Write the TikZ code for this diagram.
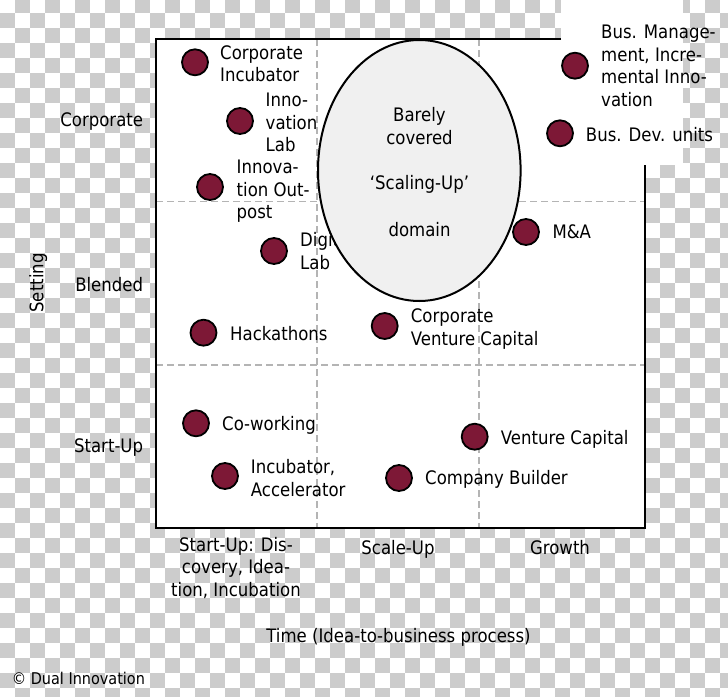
\documentclass[tikz,border=0pt]{standalone}
\usepackage{fontspec}
\setmainfont{DejaVu Sans}[FakeStretch=0.89]
\usetikzlibrary{shapes.geometric}
\definecolor{checkgray}{RGB}{204,204,204}
\definecolor{dotred}{RGB}{125,24,54}
\definecolor{gridgray}{RGB}{180,180,180}
\definecolor{ellfill}{RGB}{240,240,240}
\begin{document}
\begin{tikzpicture}[x=1pt,y=-1pt,
  txt/.style={font=\fontsize{18.6}{22.5}\selectfont, inner sep=0pt},
  lw/.style={txt, anchor=base west},
  le/.style={txt, anchor=base east},
  lc/.style={txt, anchor=base},
  dot/.style={circle, draw=black, line width=1.8pt, fill=dotred, minimum size=26pt, inner sep=0pt},
  gridline/.style={gridgray, line width=1.5pt, dash pattern=on 7pt off 4pt},
  frame/.style={black, line width=2pt, line join=miter},
]
\useasboundingbox (0,0) rectangle (728,696);
% transparency checkerboard
\begin{scope}
\clip (0,0) rectangle (728,696);
\foreach \r in {0,...,46}{
  \pgfmathtruncatemacro\s{mod(\r+1,2)}
  \foreach \c in {0,...,24}{
    \fill[checkgray] ({30*\c+15*\s},{15*\r-1.7}) rectangle ++(15,15);
  }
}
\end{scope}
% white areas
\fill[white] (156,39) rectangle (645,528);
\fill[white] (561,0) rectangle (683,165);
% grid
\draw[gridline] (317,39) -- (317,528);
\draw[gridline] (479,39) -- (479,528);
\draw[gridline] (156,201.5) -- (645,201.5);
\draw[gridline] (156,365) -- (645,365);
% frame
\draw[frame] (561,39) -- (156,39) -- (156,528) -- (645,528) -- (645,165);
% Digital Lab text (under ellipse)
\node[lw] (dl1) at (300,246.8) {Digital};
\node[lw] (dl2) at (300,269.3) {Lab};
% ellipse
\node[ellipse, draw=black, line width=2pt, fill=ellfill, minimum width=202.6pt, minimum height=261pt, inner sep=0pt] (gap) at (419.3,170.5) {};
\node[lc] (g1) at (419.5,121.7) {Barely};
\node[lc] (g2) at (419.5,144) {covered};
\node[lc] (g3) at (419.5,189.3) {‘Scaling-Up’};
\node[lc] (g4) at (419.5,236) {domain};
% dots
\node[dot] (d1) at (195,62.3) {};
\node[dot] (d2) at (240,121) {};
\node[dot] (d3) at (210,187) {};
\node[dot] (d4) at (274,251) {};
\node[dot] (d5) at (203.5,332.7) {};
\node[dot] (d6) at (384.7,326) {};
\node[dot] (d7) at (526,232) {};
\node[dot] (d8) at (575,65.7) {};
\node[dot] (d9) at (560,133.3) {};
\node[dot] (d10) at (196,423.3) {};
\node[dot] (d11) at (225,476) {};
\node[dot] (d12) at (474.7,436.7) {};
\node[dot] (d13) at (399,478) {};
% dot labels
\node[lw] (t1a) at (220,59) {Corporate};
\node[lw] (t1b) at (220,81.5) {Incubator};
\node[lw] (t2a) at (265.5,106.7) {Inno-};
\node[lw] (t2b) at (265.5,129.2) {vation};
\node[lw] (t2c) at (265.5,151.7) {Lab};
\node[lw] (t3a) at (236.5,173.5) {Innova-};
\node[lw] (t3b) at (236.5,196) {tion Out-};
\node[lw] (t3c) at (236.5,218.5) {post};
\node[lw] (t5) at (230,340) {Hackathons};
\node[lw] (t6a) at (410.7,322.7) {Corporate};
\node[lw] (t6b) at (410.7,345.2) {Venture Capital};
\node[lw] (t7) at (552.3,238.5) {M\&A};
\node[lw] (t8a) at (601,38.5) {Bus. Manage-};
\node[lw] (t8b) at (601,61) {ment, Incre-};
\node[lw] (t8c) at (601,83.5) {mental Inno-};
\node[lw] (t8d) at (601,106) {vation};
\node[lw] (t9) at (585.7,141) {Bus. Dev. units};
\node[lw] (t10) at (222,430) {Co-working};
\node[lw] (t11a) at (250.7,473.3) {Incubator,};
\node[lw] (t11b) at (250.7,496) {Accelerator};
\node[lw] (t12) at (500.7,444) {Venture Capital};
\node[lw] (t13) at (425,484.7) {Company Builder};
% axis labels
\node[le] (yc) at (143.3,126.7) {Corporate};
\node[le] (yb) at (143.3,291.7) {Blended};
\node[le] (ys) at (143.3,452.7) {Start-Up};
\node[txt, rotate=90, anchor=base] (yt) at (43.3,283) {Setting};
\node[lc] (xs1) at (236,551) {Start-Up: Dis-};
\node[lc] (xs2) at (236,573.5) {covery, Idea-};
\node[lc] (xs3) at (236,596) {tion, Incubation};
\node[lc] (xsc) at (398,554) {Scale-Up};
\node[lc] (xg) at (560,554) {Growth};
\node[lc] (xt) at (398.5,642.3) {Time (Idea-to-business process)};
\node[anchor=base west, inner sep=0pt, font=\fontsize{16.2}{19}\selectfont] (copy) at (11.7,684) {© Dual Innovation};
\end{tikzpicture}
\end{document}
